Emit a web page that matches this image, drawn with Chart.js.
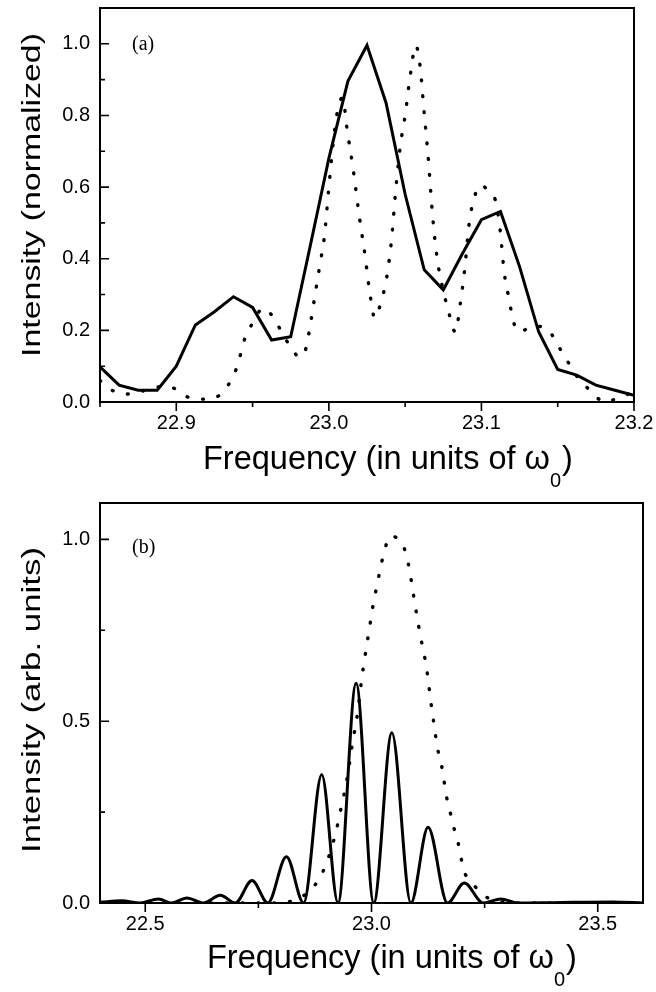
<!DOCTYPE html>
<html>
<head>
<meta charset="utf-8">
<script src="https://cdn.jsdelivr.net/npm/chart.js@4.4.1/dist/chart.umd.min.js"></script>
<style>
  body { margin: 0; background: #fff; }
  canvas { position: absolute; left: 0; }
</style>
</head>
<body>
<canvas id="panelA" width="656" height="490" style="top:0"></canvas>
<canvas id="panelB" width="656" height="502" style="top:490px"></canvas>
<script>
// panel (a): solid = computed, dotted = reference
const freqA = [22.85, 22.8625, 22.875, 22.8875, 22.9, 22.9125, 22.925, 22.9375, 22.95, 22.9625,
  22.975, 22.9875, 23.0, 23.0125, 23.025, 23.0375, 23.05, 23.0625, 23.075, 23.0875,
  23.1, 23.1125, 23.125, 23.1375, 23.15, 23.1625, 23.175, 23.1875, 23.2];
const solidA = [0.098, 0.047, 0.033, 0.033, 0.10, 0.215, 0.252, 0.294, 0.264, 0.173,
  0.182, 0.43, 0.68, 0.896, 0.996, 0.835, 0.58, 0.369, 0.313, 0.414,
  0.509, 0.532, 0.378, 0.196, 0.091, 0.075, 0.047, 0.033, 0.019];

const dotFreqA = [22.850, 22.857, 22.866, 22.876, 22.887, 22.897, 22.908, 22.918, 22.928, 22.934,
  22.939, 22.942, 22.945, 22.950, 22.957, 22.963, 22.969, 22.975, 22.981, 22.985,
  22.988, 22.991, 22.994, 22.997, 23.000, 23.003, 23.006, 23.009, 23.012, 23.016,
  23.020, 23.024, 23.027, 23.030, 23.034, 23.038, 23.041, 23.044, 23.047, 23.050,
  23.053, 23.057, 23.060, 23.062, 23.065, 23.068, 23.071, 23.074, 23.078, 23.083,
  23.086, 23.089, 23.092, 23.096, 23.100, 23.105, 23.109, 23.112, 23.115, 23.118,
  23.121, 23.125, 23.134, 23.144, 23.150, 23.156, 23.162, 23.171, 23.181, 23.191, 23.200];
const dotA = [0.060, 0.035, 0.022, 0.028, 0.042, 0.040, 0.013, 0.008, 0.018, 0.047,
  0.089, 0.131, 0.178, 0.220, 0.262, 0.240, 0.196, 0.153, 0.125, 0.150,
  0.220, 0.300, 0.380, 0.460, 0.600, 0.730, 0.820, 0.850, 0.760, 0.648,
  0.517, 0.400, 0.300, 0.235, 0.276, 0.350, 0.450, 0.600, 0.720, 0.800,
  0.900, 0.995, 0.930, 0.830, 0.690, 0.520, 0.400, 0.330, 0.260, 0.195,
  0.270, 0.370, 0.500, 0.580, 0.606, 0.585, 0.565, 0.490, 0.360, 0.290,
  0.224, 0.196, 0.212, 0.200, 0.159, 0.117, 0.075, 0.033, 0.000, 0.014, 0.028];

const xTicksA = [22.85, 22.9, 22.95, 23.0, 23.05, 23.1, 23.15, 23.2];
const xLabelsA = ['', '22.9', '', '23.0', '', '23.1', '', '23.2'];
const yTicksA = [0, 0.1, 0.2, 0.3, 0.4, 0.5, 0.6, 0.7, 0.8, 0.9, 1.0];
const yLabelsA = ['0.0', '', '0.2', '', '0.4', '', '0.6', '', '0.8', '', '1.0'];

// panel (b)
const freqB = [22.40, 22.448, 22.489, 22.529, 22.559, 22.592, 22.628, 22.666, 22.699, 22.736,
  22.771, 22.812, 22.850, 22.890, 22.926, 22.966, 23.005, 23.045, 23.087, 23.125,
  23.168, 23.205, 23.247, 23.286, 23.323, 23.40, 23.534, 23.60];
const solidB = [0.002, 0.006, 0.0, 0.011, 0.0, 0.014, 0.0, 0.021, 0.0, 0.062,
  0.0, 0.127, 0.0, 0.353, 0.0, 0.604, 0.0, 0.468, 0.0, 0.208,
  0.0, 0.055, 0.0, 0.011, 0.0, 0.001, 0.003, 0.0];

const dotFreqB = [22.40, 22.80, 22.82, 22.847, 22.865, 22.882, 22.899, 22.921, 22.935, 22.943,
  22.954, 22.959, 22.966, 22.973, 22.979, 22.984, 22.989, 22.995, 23.000, 23.006,
  23.013, 23.020, 23.028, 23.041, 23.055, 23.066, 23.078, 23.085, 23.091, 23.096,
  23.102, 23.108, 23.115, 23.121, 23.126, 23.130, 23.135, 23.140, 23.145, 23.153,
  23.159, 23.164, 23.172, 23.179, 23.190, 23.197, 23.204, 23.227, 23.257, 23.29, 23.35, 23.60];
const dotB = [0.0, 0.0, 0.004, 0.018, 0.035, 0.062, 0.105, 0.193, 0.275, 0.321,
  0.405, 0.448, 0.495, 0.560, 0.624, 0.662, 0.707, 0.750, 0.794, 0.835,
  0.879, 0.922, 0.965, 1.009, 1.005, 0.993, 0.952, 0.908, 0.862, 0.821,
  0.778, 0.734, 0.693, 0.650, 0.606, 0.564, 0.518, 0.477, 0.431, 0.390,
  0.348, 0.303, 0.261, 0.220, 0.174, 0.130, 0.090, 0.048, 0.014, 0.003, 0.0, 0.0];

const xTicksB = [22.5, 22.75, 23.0, 23.25, 23.5];
const xLabelsB = ['22.5', '', '23.0', '', '23.5'];
const yTicksB = [0, 0.25, 0.5, 0.75, 1.0];
const yLabelsB = ['0.0', '', '0.5', '', '1.0'];

Chart.defaults.font.family = '"Liberation Sans", Arial, sans-serif';
Chart.defaults.color = '#000';

const toPts = (xs, ys) => xs.map((x, i) => ({ x: x, y: ys[i] }));

// frame, inward y ticks, outward x ticks, titles
const framePlugin = {
  id: 'frame',
  afterDatasetsDraw(chart, args, o) {
    const ctx = chart.ctx, a = chart.chartArea;
    const xs = chart.scales.x, ys = chart.scales.y;
    ctx.save();
    ctx.strokeStyle = '#000';
    ctx.lineWidth = 2;
    ctx.strokeRect(a.left, a.top, a.right - a.left, a.bottom - a.top);
    ctx.lineWidth = 1.6;
    ctx.beginPath();
    o.xTicks.forEach((v, i) => {
      const px = xs.getPixelForValue(v);
      const len = o.xLabels[i] ? 9 : 5;
      ctx.moveTo(px, a.bottom);
      ctx.lineTo(px, a.bottom + len);
    });
    o.yTicks.forEach((v, i) => {
      const py = ys.getPixelForValue(v);
      const len = o.yLabels[i] ? 9 : 5;
      ctx.moveTo(a.left, py);
      ctx.lineTo(a.left + len, py);
    });
    ctx.stroke();

    ctx.fillStyle = '#000';
    // x title with subscript
    ctx.font = '32.5px "Liberation Sans"';
    ctx.textAlign = 'left';
    ctx.textBaseline = 'alphabetic';
    const main = 'Frequency (in units of \u03c9';
    const w = ctx.measureText(main).width;
    ctx.fillText(main, o.xTitleX, o.xTitleY);
    ctx.font = '20px "Liberation Sans"';
    ctx.fillText('0', o.xTitleX + w, o.xTitleY + 18);
    const sw = ctx.measureText('0').width;
    ctx.font = '32.5px "Liberation Sans"';
    ctx.fillText(')', o.xTitleX + w + sw + 1, o.xTitleY);

    // y title, rotated and stretched along its length
    ctx.font = '25px "Liberation Sans"';
    const yw = ctx.measureText(o.yTitle).width;
    ctx.translate(40, o.yTitleY);
    ctx.rotate(-Math.PI / 2);
    ctx.scale(o.yTitleLen / yw, 1);
    ctx.textAlign = 'center';
    ctx.fillText(o.yTitle, 0, 0);
    ctx.restore();

    // panel tag
    ctx.save();
    ctx.font = '20px "Liberation Serif"';
    ctx.textAlign = 'left';
    ctx.textBaseline = 'middle';
    ctx.fillText(o.tag, a.left + 32, o.tagY);
    ctx.restore();
  }
};

function makePanel(id, s) {
  new Chart(document.getElementById(id), {
    type: 'line',
    data: {
      datasets: [
        {
          data: toPts(s.dotX, s.dotY),
          borderColor: '#000',
          borderWidth: 3.4,
          borderDash: [0.8, 15],
          borderCapStyle: 'round',
          cubicInterpolationMode: 'monotone',
          pointRadius: 0
        },
        {
          data: toPts(s.solidX, s.solidY),
          borderColor: '#000',
          borderWidth: 3,
          borderJoinStyle: 'miter',
          tension: 0,
          cubicInterpolationMode: s.smooth ? 'monotone' : 'default',
          pointRadius: 0
        }
      ]
    },
    options: {
      responsive: false,
      animation: false,
      layout: { padding: { left: 0, top: s.padTop, right: s.padRight, bottom: 0 } },
      plugins: {
        legend: { display: false },
        tooltip: { enabled: false },
        frame: {
          xTicks: s.xTicks, xLabels: s.xLabels, yTicks: s.yTicks, yLabels: s.yLabels,
          xTitleX: s.xTitleX, xTitleY: s.xTitleY,
          yTitle: s.yTitle, yTitleY: s.yTitleY, yTitleLen: s.yTitleLen,
          tag: s.tag, tagY: s.tagY
        }
      },
      scales: {
        x: {
          type: 'linear', min: s.xMin, max: s.xMax,
          afterBuildTicks: sc => { sc.ticks = s.xTicks.map(v => ({ value: v })); },
          afterFit: sc => {
            sc.height = s.xAxisH;
            sc.paddingLeft = 0; sc.paddingRight = 0;
          },
          grid: { display: false, drawTicks: false },
          border: { display: false },
          ticks: {
            autoSkip: false, maxRotation: 0, padding: 9,
            font: { size: 20 },
            callback: (v, i) => s.xLabels[i]
          }
        },
        y: {
          type: 'linear', min: 0, max: 1.1,
          afterBuildTicks: sc => { sc.ticks = s.yTicks.map(v => ({ value: v })); },
          afterFit: sc => {
            sc.width = 100;
            sc.paddingTop = 0; sc.paddingBottom = 0;
          },
          grid: { display: false, drawTicks: false },
          border: { display: false },
          ticks: {
            autoSkip: false, padding: 10,
            font: { size: 20 },
            callback: (v, i) => s.yLabels[i]
          }
        }
      }
    },
    plugins: [framePlugin]
  });
}

makePanel('panelA', {
  solidX: freqA, solidY: solidA, dotX: dotFreqA, dotY: dotA, smooth: false,
  xTicks: xTicksA, xLabels: xLabelsA, yTicks: yTicksA, yLabels: yLabelsA,
  xMin: 22.85, xMax: 23.2, padTop: 8, padRight: 22, xAxisH: 88,
  xTitleX: 203, xTitleY: 469,
  yTitle: 'Intensity (normalized)', yTitleY: 195, yTitleLen: 324,
  tag: '(a)', tagY: 45
});

makePanel('panelB', {
  solidX: freqB, solidY: solidB, dotX: dotFreqB, dotY: dotB, smooth: true,
  xTicks: xTicksB, xLabels: xLabelsB, yTicks: yTicksB, yLabels: yLabelsB,
  xMin: 22.4, xMax: 23.6, padTop: 13, padRight: 13, xAxisH: 89,
  xTitleX: 207, xTitleY: 478,
  yTitle: 'Intensity (arb. units)', yTitleY: 210, yTitleLen: 306,
  tag: '(b)', tagY: 58
});
</script>
</body>
</html>
